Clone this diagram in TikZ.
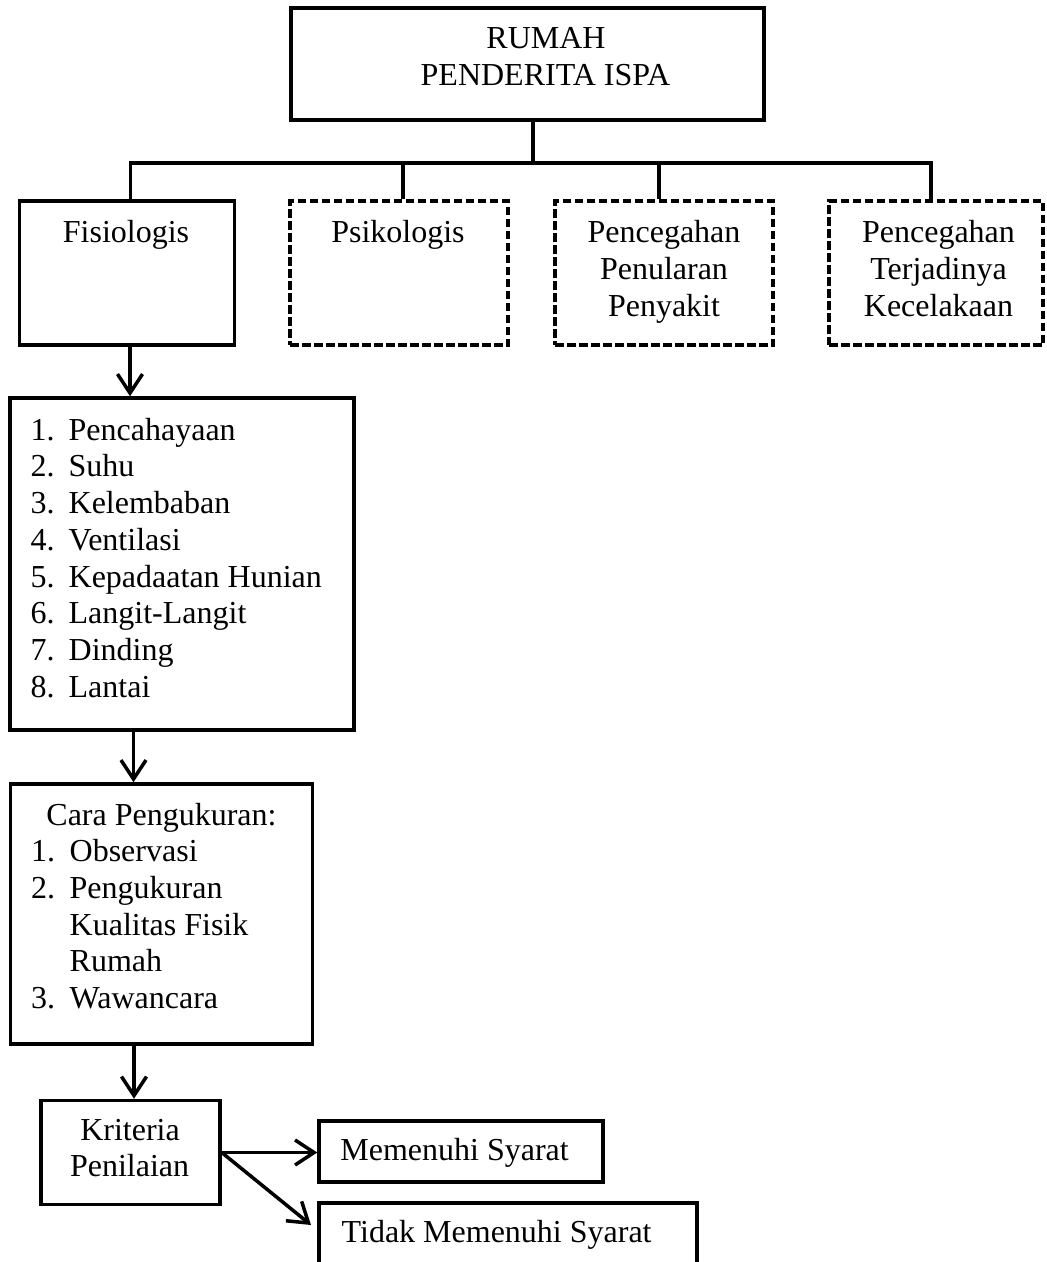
\documentclass[tikz,border=0pt]{standalone}
\usepackage{fontspec}
\setmainfont{Liberation Serif}
\usetikzlibrary{arrows.meta}
\begin{document}
\begin{tikzpicture}[x=1pt,y=-1pt,
  bx/.style n args={2}{draw,line width=3.5pt,inner sep=0pt,minimum width=#1pt,minimum height=#2pt},
  dbx/.style n args={2}{bx={#1}{#2},dash pattern=on 8.5pt off 3.5pt},
  ln/.style={line width=3.5pt},
  arr/.style={line width=3.5pt,-{Straight Barb[length=19pt,width=25pt]}},
  txt/.style={inner sep=0pt,anchor=base,font=\fontsize{32}{36.7}\selectfont},
  ltxt/.style={txt,anchor=base west}]
\useasboundingbox (0,0) rectangle (1047,1262);
\clip (0,0) rectangle (1047,1262);
% boxes
\node[bx={473}{112}] (top) at (527.5,64) {};
\node[bx={215}{144}] (fis) at (127,273) {};
\node[dbx={218}{144}] (psi) at (399,273) {};
\node[dbx={218}{144}] (pen) at (664,273) {};
\node[dbx={214}{144}] (ter) at (936,273) {};
\node[bx={344}{332}] (lst) at (182,564) {};
\node[bx={302}{260}] (cara) at (161.5,914) {};
\node[bx={179}{104}] (krit) at (130.5,1152.5) {};
\node[bx={284}{61}] (mem) at (461,1151.5) {};
\node[bx={378}{76}] (tdk) at (508,1241) {};
% texts
\node[txt] (t1) at (546,48.3) {RUMAH};
\node[txt] (t2) at (545.5,85) {PENDERITA ISPA};
\node[txt] (f1) at (126,242.5) {Fisiologis};
\node[txt] (p1) at (398,242.5) {Psikologis};
\node[txt] (q1) at (664,242) {Pencegahan};
\node[txt] (q2) at (664,279.2) {Penularan};
\node[txt] (q3) at (664,316.5) {Penyakit};
\node[txt] (r1) at (938.5,242) {Pencegahan};
\node[txt] (r2) at (938.5,279.2) {Terjadinya};
\node[txt] (r3) at (938.5,316.5) {Kecelakaan};
\foreach \i/\t in {1/Pencahayaan,2/Suhu,3/Kelembaban,4/Ventilasi,5/Kepadaatan Hunian,6/Langit-Langit,7/Dinding,8/Lantai}
  \node[ltxt] (li\i) at (30.5,{440+36.75*(\i-1)}) {\makebox[38pt][l]{\i.}\t};
\node[txt] (c0) at (161.5,825) {Cara Pengukuran:};
\node[ltxt] (c1) at (31,861.7) {\makebox[38.5pt][l]{1.}Observasi};
\node[ltxt] (c2) at (31,898.3) {\makebox[38.5pt][l]{2.}Pengukuran};
\node[ltxt] (c3) at (69.5,935) {Kualitas Fisik};
\node[ltxt] (c4) at (69.5,971.7) {Rumah};
\node[ltxt] (c5) at (31,1008.3) {\makebox[38.5pt][l]{3.}Wawancara};
\node[txt] (k1) at (130,1140) {Kriteria};
\node[txt] (k2) at (129.6,1176.7) {Penilaian};
\node[ltxt] (m1) at (340.2,1160) {Memenuhi Syarat};
\node[ltxt] (m2) at (341.5,1242.5) {Tidak Memenuhi Syarat};
% connectors
\coordinate (b0) at (533,163);
\coordinate (b1) at (130.5,163);
\coordinate (b2) at (403,163);
\coordinate (b3) at (659,163);
\coordinate (b4) at (931,163);
\draw[ln] (top.south -| b0) -- (b0);
\draw[ln] (fis.north -| b1) -- (b1) -- (b4) -- (ter.north -| b4);
\draw[ln] (b2) -- (psi.north -| b2);
\draw[ln] (b3) -- (pen.north -| b3);
\coordinate (a1) at (130,0);
\coordinate (a2) at (133.5,0);
\coordinate (a3) at (134,0);
\draw[arr] (fis.south -| a1) -- (lst.north -| a1);
\draw[arr] (lst.south -| a2) -- (cara.north -| a2);
\draw[arr] (cara.south -| a3) -- (krit.north -| a3);
\draw[arr] (krit.east) -- (krit.east -| mem.west);
\coordinate (d) at (311,1225);
\draw[arr] (krit.east) -- (d);
\end{tikzpicture}
\end{document}
